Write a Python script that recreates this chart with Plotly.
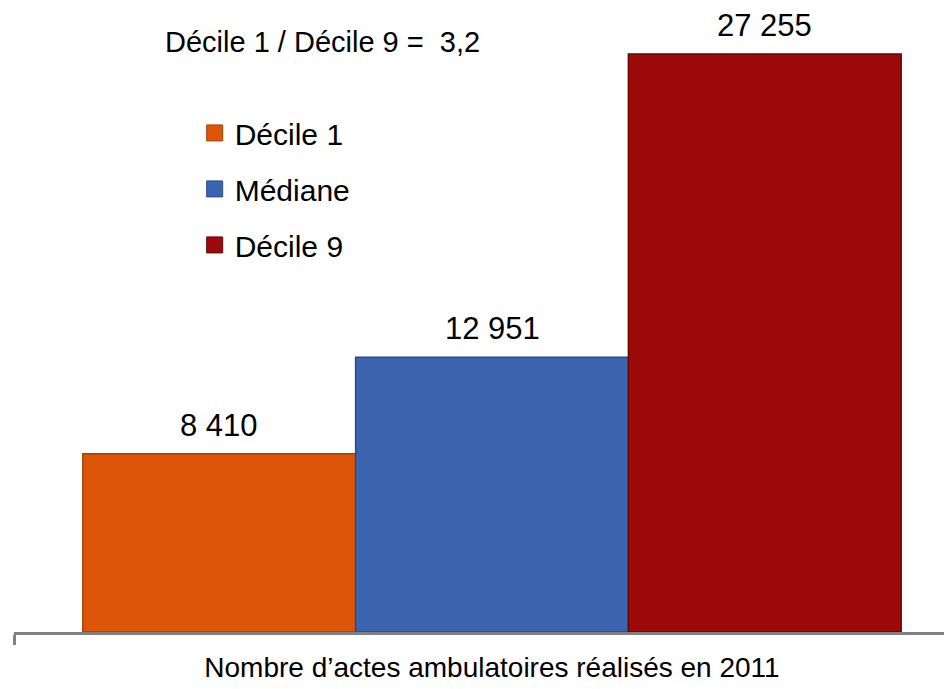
import plotly.graph_objects as go

category = ["Nombre d\u2019actes ambulatoires réalisés en 2011"]
series_names = ["Décile 1", "Médiane", "Décile 9"]
series_values = [8410, 12951, 27255]
series_colors = ["#DC5508", "#3B64AE", "#9C0A0A"]
line_colors = ["#A84006", "#2A4A85", "#6A0505"]
ratio_text = "Décile 1 / Décile 9 =\u00a0\u00a03,2"

FONT = "Liberation Sans, Arial, sans-serif"
BARGAP = 0.144

fig = go.Figure()
n = len(series_values)
bar_w = (1 - BARGAP) / n
for i, (name, val, col, lc) in enumerate(zip(series_names, series_values, series_colors, line_colors)):
    fig.add_trace(go.Bar(
        x=category, y=[val], name=name,
        marker=dict(color=col, line=dict(color=lc, width=1.5)),
        showlegend=False,
    ))
    fig.add_trace(go.Scatter(
        x=[None], y=[None], mode="markers", name=name, legendgroup=name,
        marker=dict(symbol="square", size=16, color=col, line=dict(color=lc, width=1)),
        showlegend=True, hoverinfo="skip",
    ))
    # value label above each bar (position from the group layout)
    fig.add_annotation(
        x=(i - (n - 1) / 2) * bar_w, y=val, xref="x", yref="y",
        text=f"{val:,}".replace(",", " "),
        showarrow=False, xanchor="center", yanchor="bottom", yshift=9,
        font=dict(size=31, color="#000000", family=FONT),
    )

fig.add_annotation(
    text=ratio_text, xref="paper", yref="paper", x=0.1575, y=0.964,
    xanchor="left", yanchor="middle", showarrow=False,
    font=dict(size=29, color="#000000", family=FONT),
)

fig.update_layout(
    width=952, height=689,
    margin=dict(l=6, r=0, t=12, b=65),
    paper_bgcolor="white", plot_bgcolor="white",
    barmode="group", bargap=BARGAP, bargroupgap=0,
    font=dict(family=FONT, color="#000000"),
    showlegend=True,
    legend=dict(
        x=0.191, y=0.858, xanchor="left", yanchor="top",
        font=dict(size=30, color="#000000", family=FONT),
        tracegroupgap=14, traceorder="grouped",
        bgcolor="rgba(0,0,0,0)",
    ),
    xaxis=dict(
        type="category", range=[-0.5, -0.5 + 946 / 956],
        showline=True, linecolor="#808080", linewidth=3,
        ticks="outside", tickson="boundaries", ticklen=10, tickwidth=3,
        tickcolor="#808080", showgrid=False, zeroline=False,
        tickfont=dict(size=28, color="#000000", family=FONT),
        ticklabelstandoff=8,
    ),
    yaxis=dict(
        range=[0, 612 / (578 / 27255)], visible=False,
        showgrid=False, zeroline=False,
    ),
)

fig.write_html("out.html")
